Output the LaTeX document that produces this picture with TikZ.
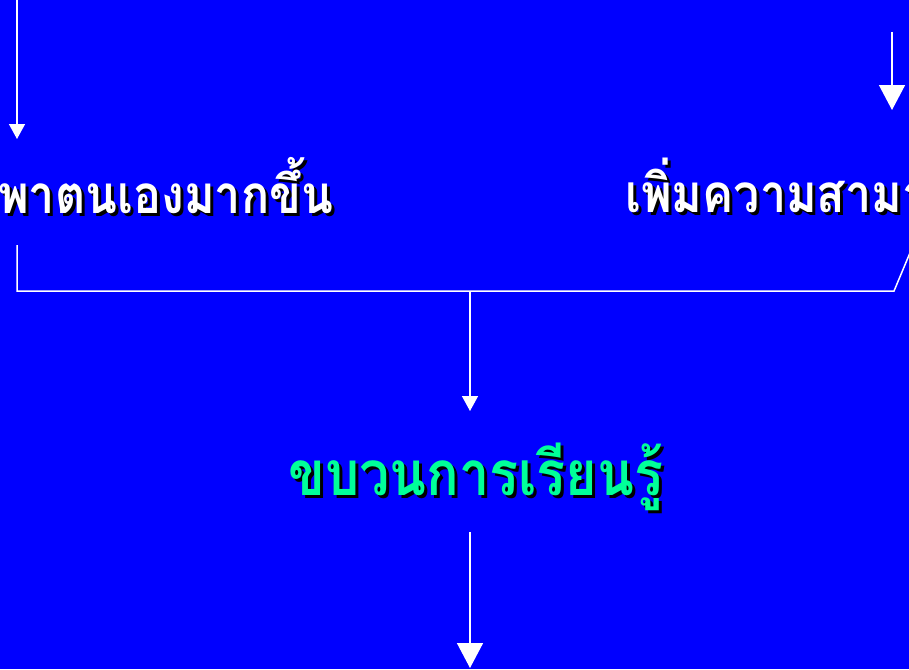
\documentclass[tikz,border=0pt]{standalone}
\usepackage{fontspec}
\newfontfamily\thaifont[Script=Thai]{Loma}
\usetikzlibrary{arrows.meta}
\definecolor{bg}{RGB}{0,0,255}
\definecolor{lightgreen}{RGB}{0,255,153}
\newcommand{\sidetext}[1]{\scalebox{0.88}[1]{\fontsize{53}{60}\selectfont #1}}
\newcommand{\midtext}[1]{\scalebox{0.87}[1]{\fontsize{62}{70}\selectfont #1}}
\begin{document}
\begin{tikzpicture}[x=1pt,y=-1pt,
  conn/.style={draw=white, line width=1.5pt},
  smallhead/.style={-{Triangle[length=15pt,width=16pt]}},
  bighead/.style={-{Triangle[length=25pt,width=26pt]}},
  ttext/.style={font=\thaifont\bfseries, inner sep=0pt, anchor=base west},
  shadow/.style={ttext, text=black}]
\useasboundingbox (0,0) rectangle (909,669);
\fill[bg] (0,0) rectangle (909,669);
\clip (0,0) rectangle (909,669);
% texts with shadows
\node[shadow] (leftsh) at (1,216) {\sidetext{พาตนเองมากขึ้น}};
\node[ttext, text=white] (left) at (-2,213) {\sidetext{พาตนเองมากขึ้น}};
\node[shadow] (rightsh) at (628,215) {\sidetext{เพิ่มความสามารถ}};
\node[ttext, text=white] (right) at (625,212) {\sidetext{เพิ่มความสามารถ}};
\node[shadow] (midsh) at (291,498) {\midtext{ขบวนการเรียนรู้}};
\node[ttext, text=lightgreen] (mid) at (288,495) {\midtext{ขบวนการเรียนรู้}};
% coordinates
\coordinate (ltop) at (17,0);
\coordinate (ltip) at (17,139);
\coordinate (rtop) at (892,32);
\coordinate (rtip) at (892,110);
\coordinate (bl) at (17,245);
\coordinate (bc) at (17,291);
\coordinate (join) at (470,291);
\coordinate (br) at (894,291);
\coordinate (bend) at (912,248);
\coordinate (midtip) at (470,411);
\coordinate (btop) at (470,532);
\coordinate (btip) at (470,668);
% connectors
\draw[conn, smallhead] (ltop) -- (ltip);
\draw[conn, bighead] (rtop) -- (rtip);
\draw[conn] (bl) -- (bc) -- (br) -- (bend);
\draw[conn, smallhead] (join) -- (midtip);
\draw[conn, bighead] (btop) -- (btip);
\end{tikzpicture}
\end{document}
